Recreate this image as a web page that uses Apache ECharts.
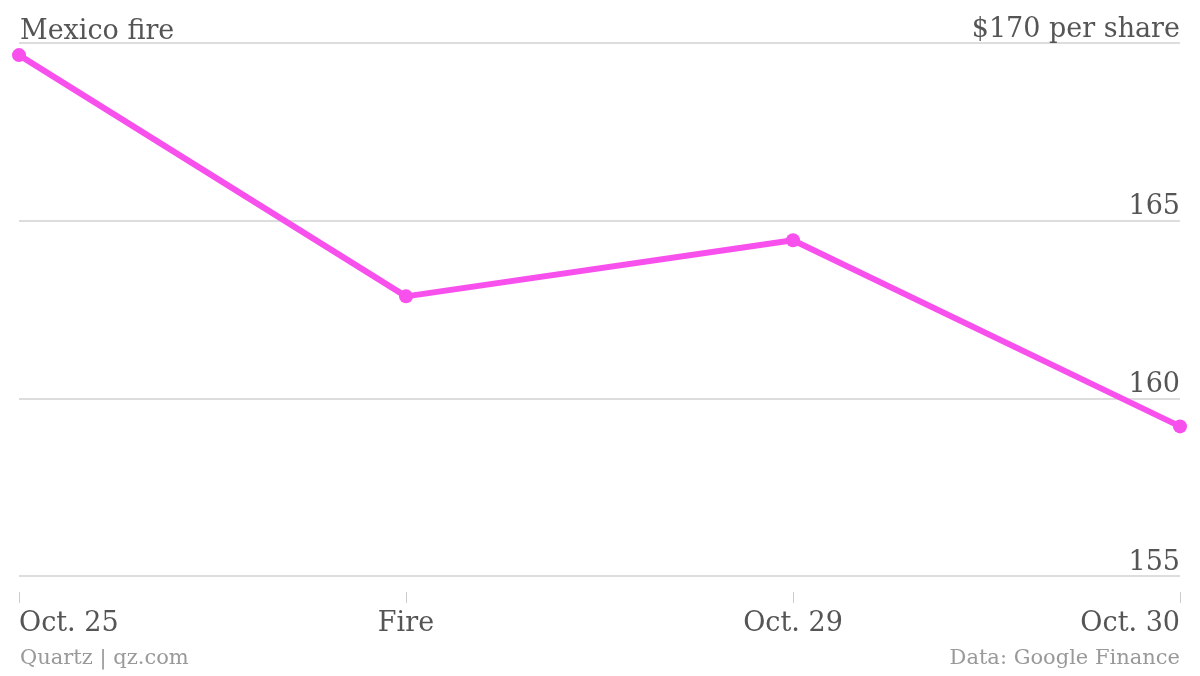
<!DOCTYPE html>
<html><head><meta charset="utf-8">
<script src="https://cdn.jsdelivr.net/npm/echarts@6/dist/echarts.min.js"></script>
<style>html,body{margin:0;padding:0;background:#fff}#c{width:1200px;height:676px}</style>
</head><body><div id="c"></div>
<script>
const categories = ['Oct. 25', 'Fire', 'Oct. 29', 'Oct. 30'];
const prices = [169.66, 162.87, 164.45, 159.21];
const yTicks = [155, 160, 165, 170];
const title = 'Mexico fire';
const sourceLeft = 'Quartz | qz.com';
const sourceRight = 'Data: Google Finance';

const FONT = '"DejaVu Serif", serif';
const chart = echarts.init(document.getElementById('c'));
chart.setOption({
  animation: false,
  backgroundColor: '#fff',
  grid: { left: 19, right: 20, top: 43, bottom: 100, containLabel: false },
  xAxis: {
    type: 'category', data: categories, boundaryGap: false,
    offset: 16,
    axisLine: { show: false },
    axisTick: { show: true, length: 11, inside: false, lineStyle: { color: '#ccc', width: 1 } },
    axisLabel: { color: '#555', fontFamily: FONT, fontSize: 27, margin: 18,
      alignMinLabel: 'left', alignMaxLabel: 'right' },
    splitLine: { show: false }
  },
  yAxis: {
    type: 'value', position: 'right', min: yTicks[0], max: yTicks[yTicks.length - 1], interval: 5,
    axisLine: { show: false }, axisTick: { show: false },
    splitLine: { show: true, lineStyle: { color: '#ddd', width: 2 } },
    axisLabel: { inside: true, margin: 0, verticalAlign: 'bottom', color: '#555', fontFamily: FONT, fontSize: 27,
      formatter: v => v === yTicks[yTicks.length - 1] ? '$' + v + ' per share' : String(v) }
  },
  graphic: [
    { type: 'text', left: 20, top: 18, style: { text: title, fill: '#555', font: '27px ' + FONT } },
    { type: 'text', left: 20, top: 648, style: { text: sourceLeft, fill: '#999', font: '21px ' + FONT } },
    { type: 'text', right: 20, top: 648, style: { text: sourceRight, fill: '#999', font: '21px ' + FONT } }
  ],
  series: [{
    type: 'line', data: prices,
    lineStyle: { color: '#f850ec', width: 6 },
    itemStyle: { color: '#f850ec' },
    symbol: 'circle', symbolSize: 14, showSymbol: true
  }]
});
</script></body></html>
